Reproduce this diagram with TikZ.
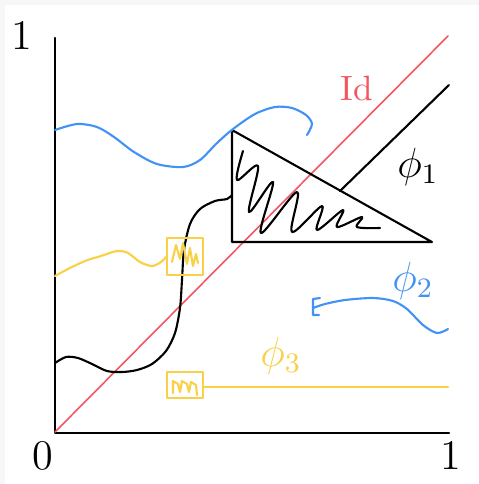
\documentclass[tikz,border=0pt]{standalone}
\usepackage{tikz}

\definecolor{azul}{RGB}{66,146,245}
\definecolor{amarillo}{RGB}{250,208,70}
\definecolor{rojo}{RGB}{245,85,95}

\begin{document}
\begin{tikzpicture}[x=0.01cm, y=-0.01cm, line cap=round, line join=round,
    trazo/.style={line width=0.6pt},
    etiqueta/.style={inner sep=0pt, font=\large}]

    % Fondo
    \fill[gray!6] (0,0) rectangle (479,484);
    \fill[white] (5,5) rectangle (479,484);
    \useasboundingbox (0,0) rectangle (479,484);

    % Ejes
    \draw[line width=0.75pt] (55,38) -- (55,433) -- (449,433);
    \node[etiqueta] (ytop) at (22,35) {1};
    \node[etiqueta] (cero) at (43,456) {0};
    \node[etiqueta] (xend) at (451,455) {1};

    % Identidad
    \draw[rojo, line width=0.45pt] (55,432) -- (448,36);
    \node[etiqueta, rojo, font=\normalsize] (id) at (357,88) {Id};

    % Phi 1: triangulo y garabato
    \draw[trazo] (232,130) -- (232,242) -- (432,242) -- cycle;
    \draw[trazo] (340,191) -- (449,85);
    \draw[trazo] plot[smooth, tension=0.55] coordinates {
        (243,151) (237,180) (258,166) (249,212) (273,182) (261,233)
        (297,192) (292,232) (322,206) (317,230) (343,210) (337,227)
        (362,217) (357,227) (380,228)};
    \draw[trazo] plot[smooth] coordinates {
        (55,363) (66,357) (78,358) (92,364) (107,371) (122,372)
        (137,370) (152,364) (166,351) (175,333) (180,308) (182,280)
        (184,250) (190,224) (200,209) (215,201) (227,199) (232,195)};
    \node[etiqueta] (phiuno) at (418,167) {$\phi_1$};

    % Phi 2
    \draw[azul, trazo] plot[smooth] coordinates {
        (55,130) (77,124) (97,127) (114,137) (134,152) (157,164)
        (183,167) (200,160) (217,143) (233,129) (255,114) (275,107)
        (292,108) (306,115) (312,124) (307,135)};
    \draw[azul, trazo] (320,298) -- (313,299) -- (313,315) -- (319,315);
    \draw[azul, trazo] plot[smooth] coordinates {
        (313,308) (325,304) (345,300) (373,298) (393,301) (407,309)
        (423,325) (437,333) (448,329)};
    \node[etiqueta, azul] (phidos) at (413,281) {$\phi_2$};

    % Phi 3
    \draw[amarillo, trazo] plot[smooth] coordinates {
        (55,276) (68,269) (85,261) (101,256) (117,251) (128,253)
        (140,262) (152,266) (161,262) (167,256)};
    \draw[amarillo, trazo] (167,238) rectangle (203,275);
    \draw[amarillo, trazo] (172,262) -- (176,245) -- (180,259) -- (183,243)
        -- (187,264) -- (190,248) -- (193,266) -- (196,254) -- (198,263);
    \draw[amarillo, trazo] (167,372) rectangle (203,398);
    \draw[amarillo, trazo] (173,393) -- (173,381) -- (178,384) -- (180,392)
        -- (182,381) -- (187,384) -- (189,392) -- (191,382) -- (196,385)
        -- (197,395);
    \draw[amarillo, trazo] (203,387) -- (448,387);
    \node[etiqueta, amarillo] (phitres) at (281,356) {$\phi_3$};

\end{tikzpicture}
\end{document}
